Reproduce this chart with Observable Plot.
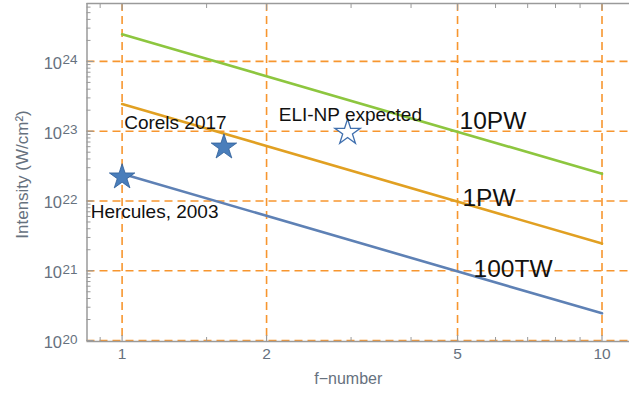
<!DOCTYPE html>
<html><head><meta charset="utf-8">
<script src="https://cdn.jsdelivr.net/npm/d3@7"></script>
<script src="https://cdn.jsdelivr.net/npm/@observablehq/plot@0.6"></script>
<style>body{margin:0;background:#fff} svg{display:block}</style>
</head><body><div id="chart"></div>
<script>
// ---- data ----
const fNumbers = [1, 10];
const int100TW = [2.45e22, 2.45e20];
const int1PW = [2.45e23, 2.45e21];
const int10PW = [2.45e24, 2.45e22];
const seriesNames = ["100TW", "1PW", "10PW"];
const seriesColors = ["#5e81b5", "#e1a022", "#8dc63f"];

const facilityNames = ["Hercules, 2003", "Corels 2017", "ELI-NP expected"];
const facilityF = [1, 1.63, 2.95];
const facilityI = [2.2e22, 5.9e22, 9.6e22];
const facilityFilled = [true, true, false];
const facilityLabelF = [0.86, 1.01, 2.12];
const facilityLabelI = [6.9e21, 1.33e23, 1.74e23];

const powerLabelF = [5.4, 5.12, 5.05];
const powerLabelI = [1.05e21, 1.09e22, 1.38e23];

const xMajor = [1, 2, 5, 10];
const xMinor = [0.9, 1.5, 3, 4, 6, 7, 8, 9];
const yMajor = [1e20, 1e21, 1e22, 1e23, 1e24];
const yExponents = ["20", "21", "22", "23", "24"];
const yMinorMant = [2, 3, 4, 5, 6, 7, 8, 9];
const yMinorDecades = [20, 21, 22, 23, 24];
const xDomain = [0.845, 11.41];
const yDomain = [Math.pow(10, 19.986), Math.pow(10, 24.83)];
const xTitle = "f\u2212number";
const yTitle = "Intensity (W/cm\u00b2)";

// ---- derived tables ----
const seriesInts = [int100TW, int1PW, int10PW];
const lineRows = seriesNames.flatMap((s, k) => fNumbers.map((f, i) => ({series: s, f, I: seriesInts[k][i]})));
const facilities = facilityNames.map((n, i) => ({name: n, f: facilityF[i], I: facilityI[i], filled: facilityFilled[i], lf: facilityLabelF[i], lI: facilityLabelI[i]}));
const powerLabels = seriesNames.map((s, i) => ({s, f: powerLabelF[i], I: powerLabelI[i]}));
const yMinor = yMinorDecades.flatMap(d => yMinorMant.map(m => m * Math.pow(10, d))).filter(v => v < yDomain[1]);

const orange = "#f7962f";
const frameGrey = "#9a9a9a";
const labelGrey = "#66717e";
const font = "Liberation Sans, Arial, sans-serif";

const chart = Plot.plot({
  width: 629, height: 400,
  marginLeft: 86.5, marginRight: 0, marginTop: 3, marginBottom: 59,
  style: {fontFamily: font, background: "#fff", overflow: "visible"},
  x: {type: "log", domain: xDomain, axis: null},
  y: {type: "log", domain: yDomain, axis: null},
  color: {domain: seriesNames, range: seriesColors},
  marks: [
    // grid
    Plot.ruleX(xMajor, {stroke: orange, strokeWidth: 1.6, strokeDasharray: "8,5"}),
    Plot.ruleY(yMajor, {stroke: orange, strokeWidth: 1.6, strokeDasharray: "8,5"}),
    // frame (left, top, bottom)
    Plot.ruleX([xDomain[0]], {stroke: frameGrey, strokeWidth: 1.5}),
    Plot.ruleY(yDomain, {stroke: frameGrey, strokeWidth: 1.5}),
    // inward ticks
    Plot.axisY(yMajor, {anchor: "left", tickSize: -7, tickFormat: () => "", stroke: frameGrey, strokeWidth: 1.2}),
    Plot.axisY(yMinor, {anchor: "left", tickSize: -4, tickFormat: () => "", stroke: frameGrey, strokeWidth: 1}),
    Plot.axisX(xMajor, {anchor: "bottom", tickSize: -6, tickFormat: () => "", stroke: frameGrey, strokeWidth: 1.2}),
    Plot.axisX(xMinor, {anchor: "bottom", tickSize: -4, tickFormat: () => "", stroke: frameGrey, strokeWidth: 1}),
    Plot.axisX(xMajor, {anchor: "top", tickSize: -6, tickFormat: () => "", stroke: frameGrey, strokeWidth: 1.2}),
    Plot.axisX(xMinor, {anchor: "top", tickSize: -4, tickFormat: () => "", stroke: frameGrey, strokeWidth: 1}),
    // power lines
    Plot.line(lineRows, {x: "f", y: "I", z: "series", stroke: "series", strokeWidth: 2.6}),
    // facility stars
    Plot.dot(facilities, {x: "f", y: "I", symbol: "star", r: 8,
      fill: d => d.filled ? "#4a7ebb" : "#ffffff",
      stroke: d => d.filled ? "#2f5e98" : "#3f6fae", strokeWidth: d => d.filled ? 0.8 : 1.3}),
    // annotations
    Plot.text(facilities, {x: "lf", y: "lI", text: "name", textAnchor: "start", fontSize: 19, fill: "#111"}),
    Plot.text(powerLabels, {x: "f", y: "I", text: "s", textAnchor: "start", fontSize: 24.5, fill: "#111"}),
    // tick labels
    Plot.text(xMajor, {x: d => d, frameAnchor: "bottom", textAnchor: "middle", dy: 17.5, text: d => String(d), fontSize: 15.5, fill: labelGrey}),
    Plot.text(yMajor, {y: d => d, frameAnchor: "left", textAnchor: "end", dx: -25, dy: 2.2, text: () => "10", fontSize: 16.5, fill: labelGrey}),
    Plot.text(yMajor, {y: d => d, frameAnchor: "left", textAnchor: "start", dx: -24.5, dy: -1.3, text: (d, i) => yExponents[i], fontSize: 13.5, fill: labelGrey}),
    // axis titles
    Plot.text([xTitle], {frameAnchor: "bottom", textAnchor: "middle", dx: -10, dy: 42.5, fontSize: 16, fill: labelGrey}),
    Plot.text([yTitle], {frameAnchor: "left", textAnchor: "middle", rotate: -90, dx: -64.5, dy: 2, fontSize: 17, fill: labelGrey})
  ]
});
document.getElementById("chart").appendChild(chart);
</script>
</body></html>
